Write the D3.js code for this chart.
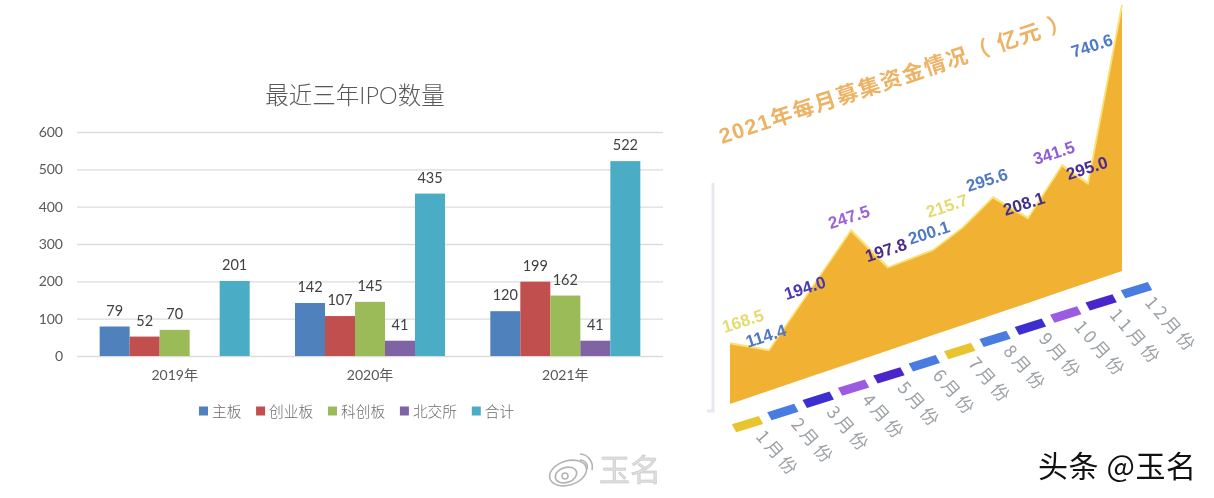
<!DOCTYPE html>
<html>
<head>
<meta charset="utf-8">
<script src="https://cdn.jsdelivr.net/npm/d3@7"></script>
<style>
  html, body { margin: 0; padding: 0; background: #fff; }
  svg { display: block; }
  .ipo-axis text { font-family: Lato, "Noto Sans CJK SC"; fill: #595959; }
  .ipo-axis path { display: none; }
</style>
</head>
<body>
<svg id="chart" width="1214" height="498"></svg>
<script>
// left chart data
var years = ["2019年", "2020年", "2021年"]
var boards = ["主板", "创业板", "科创板", "北交所", "合计"]
var mainBoard = [79, 142, 120]
var chiNext = [52, 107, 199]
var star = [70, 145, 162]
var beijing = [null, 41, 41]
var total = [201, 435, 522]
var yTicks = [0, 100, 200, 300, 400, 500, 600]
var boardColors = ["#4f81bd", "#c0504d", "#9bbb59", "#8064a2", "#4bacc6"]

// right chart data
var months = ["1月份", "2月份", "3月份", "4月份", "5月份", "6月份", "7月份", "8月份", "9月份", "10月份", "11月份", "12月份"]
// printed labels
var raised = [168.5, 114.4, 194.0, 247.5, 197.8, 200.1, 215.7, 295.6, 208.1, 341.5, 295.0, 740.6]
// the orange shape does not follow its labels, so this is the height read off the shape itself
var shapeHeight = [169, 113, 241, 369, 231, 237, 272, 327, 236, 351, 276, 740.6]
var monthColors = ["#e8c52e", "#4a7be0", "#3c2fd0", "#9a5be0", "#4a28cc", "#4a7be0", "#e8c52e", "#4a7be0", "#3c2fd0", "#9a5be0", "#4a28cc", "#4a7be0"]
var labelColors = ["#e6da70", "#4f78c0", "#4a38b4", "#9a62d8", "#4a2a8c", "#5079c6", "#e4da70", "#5079c6", "#40308c", "#8f5cd8", "#4a2b9c", "#4c78c8"]
// nudge of each printed label from its point, the source placed them by hand
var labelNudge = [[13, -22], [-3, -14], [-5, -2], [-2, -13], [-2, -17], [-4, -17], [-16, -21], [-6, -17], [-4, -14], [-8, -12], [-1, -15], [-30, 41]]

var svg = d3.select("#chart")
var cjk = '"Noto Sans CJK SC"'

// soft look of the screenshot
var defs = svg.append("defs")
defs.append("filter").attr("id", "soft").append("feGaussianBlur").attr("stdDeviation", 0.45)
defs.append("filter").attr("id", "softer").append("feGaussianBlur").attr("stdDeviation", 0.6)

var left = svg.append("g").attr("filter", "url(#soft)")
var right = svg.append("g").attr("filter", "url(#softer)")

/* ---------- bar chart ---------- */
var series = [mainBoard, chiNext, star, beijing, total]

var x0 = d3.scaleBand().domain(years).range([77, 663]).paddingInner(0.232).paddingOuter(0.116)
var x1 = d3.scaleBand().domain(boards).range([0, x0.bandwidth()])
var y = d3.scaleLinear().domain([0, 600]).range([356, 132])

left.append("text")
  .attr("x", 355).attr("y", 104)
  .attr("text-anchor", "middle")
  .attr("font-family", 'Lato, ' + cjk).attr("font-weight", 300)
  .attr("font-size", 23.5).attr("fill", "#595959")
  .text("最近三年IPO数量")

var yAxis = left.append("g").attr("class", "ipo-axis")
  .attr("transform", "translate(77,0)")
  .call(d3.axisLeft(y).tickValues(yTicks).tickSize(-586).tickPadding(14))
yAxis.selectAll("line").attr("stroke", "#dcdcdc").attr("stroke-width", 1.3)
yAxis.selectAll("text").attr("font-size", 14)

var xAxis = left.append("g").attr("class", "ipo-axis")
  .attr("transform", "translate(0,356)")
  .call(d3.axisBottom(x0).tickSize(0).tickPadding(14))
xAxis.selectAll("text").attr("font-size", 14)

boards.forEach(function(board, s) {
  years.forEach(function(year, g) {
    var v = series[s][g]
    if (v == null) { return }
    var bx = x0(year) + x1(board)
    left.append("rect")
      .attr("x", bx).attr("y", y(v))
      .attr("width", x1.bandwidth()).attr("height", y(0) - y(v))
      .attr("fill", boardColors[s])
    left.append("text")
      .attr("x", bx + x1.bandwidth() / 2).attr("y", y(v) - 11)
      .attr("text-anchor", "middle")
      .attr("font-family", "Lato").attr("font-size", 14.5).attr("fill", "#404040")
      .text(v)
  })
})

// legend
var legendX = 199
boards.forEach(function(board, s) {
  left.append("rect")
    .attr("x", legendX).attr("y", 406.5)
    .attr("width", 9).attr("height", 9)
    .attr("fill", boardColors[s])
  left.append("text")
    .attr("x", legendX + 13).attr("y", 416.5)
    .attr("font-family", cjk).attr("font-weight", 300)
    .attr("font-size", 14.7).attr("fill", "#6b6b6b")
    .text(board)
  legendX += 13 + board.length * 14.8 + 14.5
})

/* ---------- tilted area chart ---------- */
var tilt = -0.3393
// the warp in the source spaces the months unevenly
var monthX = d3.scaleLinear().domain(d3.range(12)).range([0, 39, 80, 121, 158, 203, 233, 263, 298, 332, 358, 392])
var heightY = d3.scaleLinear().domain([0, 740.6]).range([0, -266])

// y axis wall
right.append("path")
  .attr("d", "M713,183V411H707")
  .attr("fill", "none").attr("stroke", "#e6e9f1").attr("stroke-width", 3)

var plane = right.append("g")
  .attr("transform", "translate(730,404) matrix(1," + tilt + ",0,1,0,0)")

var area = d3.area()
  .x(function(d, i) { return monthX(i) })
  .y0(0)
  .y1(function(d) { return heightY(d) })
var topLine = d3.line()
  .x(function(d, i) { return monthX(i) })
  .y(function(d) { return heightY(d) })

plane.append("path").datum(shapeHeight).attr("d", area).attr("fill", "#f1b130")
plane.append("path").datum(shapeHeight).attr("d", topLine)
  .attr("fill", "none").attr("stroke", "#f9e27a").attr("stroke-width", 2)

// printed values
raised.forEach(function(v, i) {
  var px = 730 + monthX(i)
  var py = 404 + tilt * monthX(i) + heightY(shapeHeight[i])
  right.append("text")
    .attr("transform", "translate(" + (px + labelNudge[i][0]) + "," + (py + labelNudge[i][1]) + ") rotate(-18)")
    .attr("text-anchor", "middle").attr("dominant-baseline", "central")
    .attr("font-family", "Liberation Sans").attr("font-size", 17).attr("font-weight", 700)
    .attr("fill", labelColors[i])
    .text(v.toFixed(1))
})

// month keys under the baseline
var keyX = d3.scalePoint().domain(months).range([748, 1137])
months.forEach(function(month, i) {
  var kx = keyX(month)
  var ky = 424 + (kx - 748) * -0.3445
  right.append("rect")
    .attr("transform", "translate(" + kx + "," + ky + ") matrix(1,-0.31,0.55,1,0,0)")
    .attr("x", -14).attr("y", -4).attr("width", 27).attr("height", 8)
    .attr("fill", monthColors[i])
  right.append("text")
    .attr("transform", "translate(" + (kx + 7) + "," + (ky + 13) + ") rotate(49)")
    .attr("font-family", cjk).attr("font-size", 17.5).attr("letter-spacing", 3.5)
    .attr("fill", "#9aa0a4")
    .text(month)
})

right.append("text")
  .attr("transform", "translate(722,144) rotate(-18.4)")
  .attr("font-family", "Liberation Sans, " + cjk).attr("font-size", 21.5).attr("font-weight", 700)
  .attr("letter-spacing", 1.6)
  .attr("xml:space", "preserve")
  .attr("fill", "#edb263")
  .text("2021年每月募集资金情况（ 亿元 ）")

/* ---------- watermarks ---------- */
var mark = svg.append("g").attr("fill", "none").attr("stroke", "#b4b4b4").attr("stroke-width", 1.6)
mark.append("ellipse").attr("transform", "translate(568,473) rotate(-18)").attr("rx", 19).attr("ry", 12)
mark.append("ellipse").attr("transform", "translate(566,475) rotate(-18)").attr("rx", 11).attr("ry", 7.5)
mark.append("circle").attr("cx", 565).attr("cy", 476).attr("r", 3)
mark.append("path").attr("d", "M580,460A7,7 0 0 1 587,469")
mark.append("path").attr("d", "M580,454A13,13 0 0 1 592,470")

svg.append("text")
  .attr("x", 599).attr("y", 481)
  .attr("font-family", cjk).attr("font-size", 31).attr("fill", "#dedede")
  .attr("stroke", "#c4c4c4").attr("stroke-width", 0.5)
  .text("玉名")

svg.append("text")
  .attr("x", 1038).attr("y", 477)
  .attr("font-family", cjk).attr("font-size", 30).attr("letter-spacing", 0.6).attr("fill", "#111")
  .text("头条 @玉名")
</script>
</body>
</html>
